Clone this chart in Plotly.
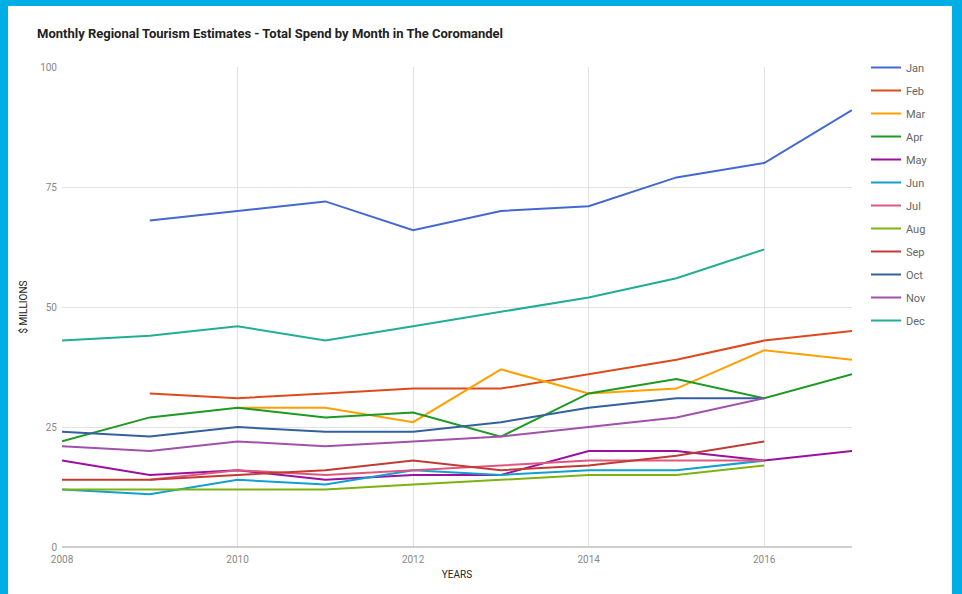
import plotly.graph_objects as go

years = [2008, 2009, 2010, 2011, 2012, 2013, 2014, 2015, 2016, 2017]
months = ["Jan", "Feb", "Mar", "Apr", "May", "Jun", "Jul", "Aug", "Sep", "Oct", "Nov", "Dec"]

jan = [None, 68, 70, 72, 66, 70, 71, 77, 80, 91]
feb = [None, 32, 31, 32, 33, 33, 36, 39, 43, 45]
mar = [None, None, 29, 29, 26, 37, 32, 33, 41, 39]
apr = [22, 27, 29, 27, 28, 23, 32, 35, 31, 36]
may = [18, 15, 16, 14, 15, 15, 20, 20, 18, 20]
jun = [12, 11, 14, 13, 16, 15, 16, 16, 18, None]
jul = [None, 14, 16, 15, 16, 17, 18, 18, 18, None]
aug = [12, 12, 12, 12, 13, 14, 15, 15, 17, None]
sep = [14, 14, 15, 16, 18, 16, 17, 19, 22, None]
oct_ = [24, 23, 25, 24, 24, 26, 29, 31, 31, None]
nov = [21, 20, 22, 21, 22, 23, 25, 27, 31, None]
dec = [43, 44, 46, 43, 46, 49, 52, 56, 62, None]

series = [jan, feb, mar, apr, may, jun, jul, aug, sep, oct_, nov, dec]
colors = ["#4468d2", "#dc4a1e", "#ffa000", "#1e9a23", "#9c0f9f", "#12a0cf",
          "#e0567f", "#7db210", "#bf3b33", "#34609e", "#a052ab", "#22ad95"]

fig = go.Figure()
for name, vals, col in zip(months, series, colors):
    fig.add_trace(go.Scatter(x=years, y=vals, mode="lines", name=name,
                             legendgroup=name,
                             line=dict(color=col, width=2)))

L, R, T, B = 62, 110, 67, 47
W, H = 962, 594
pw, ph = W - L - R, H - T - B

def px(x):
    return (x - L) / pw

def py(y):
    return (H - B - y) / ph

border = "#00aee6"
shapes = [
    dict(type="rect", xref="paper", yref="paper", x0=px(0), x1=px(8), y0=py(H + 10), y1=py(-10),
         fillcolor=border, line=dict(width=0), layer="above"),
    dict(type="rect", xref="paper", yref="paper", x0=px(0), x1=px(W + 10), y0=py(6), y1=py(-10),
         fillcolor=border, line=dict(width=0), layer="above"),
    dict(type="rect", xref="paper", yref="paper", x0=px(952), x1=px(W + 10), y0=py(H + 10), y1=py(-10),
         fillcolor=border, line=dict(width=0), layer="above"),
]

fig.update_layout(
    width=W, height=H,
    margin=dict(l=L, r=R, t=T, b=B),
    paper_bgcolor="white", plot_bgcolor="white",
    font=dict(family="Roboto, Arial, sans-serif", color="#777777", size=10),
    title=dict(text="<b>Monthly Regional Tourism Estimates - Total Spend by Month in The Coromandel</b>",
               x=37 / W, xanchor="left", xref="container", y=1 - 33 / H, yanchor="middle",
               yref="container",
               font=dict(family="Roboto, Arial, sans-serif", size=13, color="#222222")),
    xaxis=dict(range=[2008, 2017], tick0=2008, dtick=2, showgrid=True, gridcolor="#e2e2e2",
               zeroline=False, showline=False, ticks="", tickfont=dict(size=10, color="#888888"),
               ticklabelstandoff=5,
               title=dict(text="YEARS", font=dict(size=10, color="#222222"), standoff=6)),
    yaxis=dict(range=[0, 100], tick0=0, dtick=25, showgrid=True, gridcolor="#e2e2e2",
               zeroline=True, zerolinecolor="#cfcfcf", zerolinewidth=2, showline=False, ticks="",
               tickfont=dict(size=10, color="#888888"), ticklabelstandoff=4,
               title=dict(text="$ MILLIONS", font=dict(size=10, color="#222222"), standoff=10)),
    legend=dict(x=px(866), xanchor="left", y=py(53), yanchor="top",
                traceorder="grouped", tracegroupgap=4,
                font=dict(size=11, color="#666666"), bgcolor="rgba(0,0,0,0)"),
    shapes=shapes,
)

fig.write_html("out.html")
